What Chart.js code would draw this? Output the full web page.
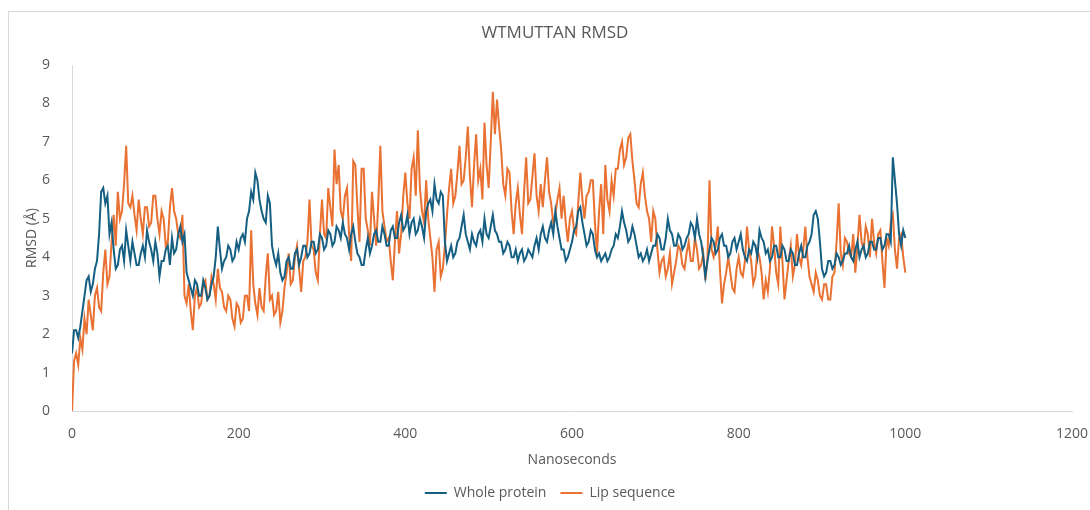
<!DOCTYPE html>
<html>
<head>
<meta charset="utf-8">
<script src="https://cdn.jsdelivr.net/npm/chart.js@4.4.1/dist/chart.umd.min.js"></script>
<style>
  html, body { margin: 0; padding: 0; background: #ffffff; }
  body { width: 1090px; height: 510px; position: relative; overflow: hidden; }
  #frame { position: absolute; left: 8px; top: 11px; width: 1100px; height: 520px; border: 1px solid #d9d9d9; box-sizing: border-box; }
  #wrap { position: absolute; left: 0; top: 0; width: 1090px; height: 510px; }
</style>
</head>
<body>
<div id="frame"></div>
<div id="wrap"><canvas id="c" width="1090" height="510"></canvas></div>
<script>
const titleText = "WTMUTTAN RMSD";
const xTitle = "Nanoseconds";
const yTitle = "RMSD (Å)";
const seriesNames = ["Whole protein", "Lip sequence"];

// Sampling interval of the series below (ns)
const stepNs = 2.5;

// Whole protein RMSD (Å), one value every 2.5 ns from 0 to 1000
const wholeProtein = [
  1.5, 2.1, 2.1, 1.9, 2.2, 2.6, 3.0, 3.4, 3.5, 3.1, 3.3, 3.7, 3.9, 4.6, 5.7, 5.8, 5.4, 5.6, 4.6, 4.9,
  4.2, 3.7, 3.8, 4.2, 4.3, 3.9, 4.7, 4.3, 3.9, 4.4, 4.1, 3.8, 3.8, 4.1, 4.3, 4.0, 4.7, 4.4, 4.2, 3.9,
  4.4, 4.1, 3.5, 3.9, 3.9, 4.2, 4.3, 3.8, 4.5, 4.1, 4.2, 4.6, 4.8, 4.4, 4.6, 3.6, 3.4, 3.2, 3.0, 3.4,
  3.3, 3.0, 3.0, 3.4, 3.2, 2.9, 3.0, 3.3, 3.5, 4.0, 4.8, 4.2, 3.7, 3.9, 4.0, 4.3, 4.2, 3.9, 4.0, 4.4,
  4.2, 4.5, 4.6, 4.4, 5.0, 5.2, 5.7, 5.5, 6.2, 6.0, 5.5, 5.2, 5.0, 4.9, 5.6, 5.4, 4.3, 4.0, 3.8, 4.1,
  3.6, 3.4, 3.5, 3.9, 4.0, 3.7, 3.7, 4.1, 4.2, 3.8, 4.0, 4.3, 4.3, 4.0, 4.1, 4.4, 4.4, 4.1, 4.2, 4.6,
  4.5, 4.2, 4.3, 4.7, 4.6, 4.3, 4.4, 4.8, 4.7, 4.5, 4.9, 4.6, 4.5, 4.2, 4.6, 4.8, 4.4, 4.1, 4.0, 3.8,
  3.8, 4.2, 4.5, 4.1, 4.3, 4.6, 4.7, 4.4, 4.4, 4.8, 4.6, 4.3, 4.3, 4.7, 4.8, 4.5, 4.5, 4.9, 5.1, 4.7,
  4.8, 5.1, 4.6, 4.9, 5.0, 4.6, 4.7, 5.0, 4.8, 4.5, 5.2, 5.4, 5.5, 5.2, 5.9, 5.5, 5.4, 5.7, 5.6, 4.4,
  3.9, 4.1, 4.3, 4.0, 4.1, 4.4, 4.5, 4.8, 5.1, 4.6, 4.4, 4.2, 4.6, 4.4, 4.3, 4.6, 4.7, 4.4, 5.0, 4.6,
  4.5, 4.8, 5.1, 4.7, 4.6, 4.4, 4.4, 4.1, 4.2, 4.4, 4.3, 4.0, 4.0, 4.2, 3.9, 4.1, 4.2, 3.9, 4.0, 4.2,
  4.1, 4.0, 4.3, 4.5, 4.2, 4.6, 4.8, 4.5, 4.4, 4.7, 4.9, 4.6, 5.2, 4.8, 4.5, 4.2, 4.2, 3.9, 4.0, 4.2,
  4.4, 4.7, 4.8, 5.2, 5.3, 4.9, 4.6, 4.3, 4.4, 4.7, 4.6, 4.2, 4.0, 4.1, 3.9, 4.0, 4.1, 3.9, 4.0, 4.2,
  4.3, 4.6, 4.5, 4.8, 5.2, 4.9, 4.7, 4.4, 4.5, 4.8, 4.6, 4.3, 4.0, 4.1, 3.9, 4.0, 4.2, 3.9, 4.1, 4.3,
  4.3, 4.6, 4.5, 4.2, 4.2, 4.5, 5.0, 4.7, 4.6, 4.3, 4.3, 4.6, 4.5, 4.2, 4.3, 4.5, 4.6, 4.9, 4.8, 4.5,
  5.0, 4.6, 4.4, 4.0, 3.5, 3.9, 4.2, 4.5, 4.4, 4.1, 4.2, 4.5, 4.6, 4.3, 4.3, 4.0, 4.1, 4.4, 4.5, 4.2,
  4.4, 4.6, 4.2, 4.0, 3.9, 4.2, 4.1, 4.4, 4.3, 4.0, 4.7, 4.5, 4.4, 4.1, 4.2, 3.9, 4.0, 4.3, 4.3, 4.0,
  4.0, 4.3, 4.2, 3.9, 3.9, 4.2, 4.1, 3.8, 3.8, 4.1, 4.3, 4.0, 4.0, 4.3, 4.4, 4.6, 5.1, 5.2, 5.0, 4.4,
  3.7, 3.5, 3.6, 3.9, 3.9, 3.7, 3.8, 4.1, 4.0, 3.8, 3.9, 4.1, 4.1, 4.3, 4.0, 3.9, 4.2, 4.4, 4.0, 4.2,
  4.3, 4.0, 4.1, 4.4, 4.4, 4.2, 4.2, 4.5, 4.5, 4.2, 4.3, 4.6, 4.6, 4.4, 6.6, 6.0, 5.4, 4.6, 4.3, 4.7,
  4.5
];

// Lip sequence RMSD (Å), one value every 2.5 ns from 0 to 1000
const lipSequence = [
  0.0, 1.3, 1.5, 1.2, 1.9, 1.6, 2.4, 2.0, 2.9, 2.5, 2.1, 3.0, 3.2, 2.7, 2.6, 3.6, 4.2, 3.3, 3.5, 4.4,
  5.1, 4.3, 5.7, 5.0, 5.2, 5.9, 6.9, 5.4, 5.3, 5.6, 5.1, 4.7, 5.5, 5.0, 4.6, 5.3, 5.3, 4.8, 4.9, 5.6,
  5.6, 5.0, 4.6, 5.2, 5.0, 4.3, 4.4, 5.3, 5.8, 5.2, 5.0, 4.6, 4.5, 5.1, 3.0, 2.8, 3.3, 2.6, 2.1, 3.0,
  3.2, 2.7, 2.8, 3.3, 3.4, 2.9, 3.0, 3.5, 3.3, 2.9, 3.7, 3.2, 3.1, 2.7, 2.6, 3.0, 2.9, 2.4, 2.2, 2.8,
  2.7, 2.3, 2.4, 3.0, 3.0, 2.6, 4.7, 3.3, 2.8, 2.5, 3.2, 2.7, 2.6, 3.5, 4.1, 2.9, 3.0, 2.5, 2.6, 3.1,
  2.3, 2.6, 3.2, 3.6, 4.1, 3.3, 3.4, 4.0, 4.3, 3.7, 3.1, 3.9, 4.0, 4.4, 5.5, 4.3, 4.2, 3.6, 3.4, 4.6,
  5.5, 4.6, 4.5, 5.8, 5.3, 4.8, 6.8, 5.9, 6.4, 5.2, 5.0, 5.6, 5.8, 4.6, 3.9, 6.5, 6.4, 5.3, 4.4, 6.3,
  6.3, 5.0, 4.7, 4.3, 5.7, 5.0, 4.3, 5.4, 6.9, 5.2, 4.8, 4.4, 4.5, 3.9, 3.4, 4.4, 5.2, 4.1, 4.6, 5.6,
  6.2, 5.4, 5.0, 6.3, 6.6, 5.6, 7.3, 5.8, 5.2, 4.9, 6.0, 5.0, 4.5, 4.0, 3.1, 4.2, 4.4, 3.5, 3.7, 4.3,
  5.1, 5.8, 6.3, 5.4, 5.6, 6.2, 6.9, 5.9, 6.0, 6.6, 7.4, 6.1, 5.3, 6.4, 7.2, 6.0, 6.3, 5.5, 7.5, 6.4,
  5.8, 7.0, 8.3, 7.2, 8.1, 7.4, 6.8, 5.9, 5.6, 6.3, 6.2, 5.2, 4.6, 5.4, 5.8, 5.1, 4.6, 5.7, 6.6, 5.4,
  5.5, 6.1, 6.7, 5.6, 5.2, 5.9, 5.3, 6.0, 6.6, 5.7, 5.4, 4.9, 5.1, 5.5, 5.8, 5.0, 5.6, 4.9, 4.4, 5.0,
  5.2, 4.7, 4.6, 5.4, 6.2, 5.5, 5.0, 5.6, 5.7, 6.0, 6.0, 4.9, 4.1, 5.2, 5.9, 4.6, 6.4, 5.5, 5.2, 6.0,
  5.6, 6.3, 6.3, 6.8, 7.0, 6.4, 6.6, 7.1, 7.2, 6.5, 6.0, 5.4, 5.3, 5.9, 6.2, 5.6, 5.2, 5.0, 4.4, 5.2,
  5.0, 4.2, 3.6, 3.9, 4.0, 3.5, 3.7, 4.1, 3.3, 3.6, 3.9, 4.3, 4.2, 3.8, 3.7, 4.1, 4.4, 3.9, 3.9, 4.5,
  4.2, 3.7, 3.8, 4.1, 3.4, 3.9, 6.0, 4.2, 4.0, 4.3, 4.8, 3.7, 2.8, 3.3, 3.6, 4.0, 3.6, 3.2, 3.1, 3.7,
  4.0, 3.6, 3.5, 3.9, 4.8, 4.2, 3.9, 3.3, 3.5, 4.2, 4.0, 3.6, 2.9, 3.4, 3.1, 3.7, 4.8, 4.3, 3.6, 3.3,
  4.8, 3.9, 2.9, 3.4, 3.9, 4.3, 3.5, 3.8, 4.6, 4.0, 3.8, 4.2, 4.8, 4.0, 3.5, 3.3, 3.1, 3.6, 3.4, 3.0,
  2.9, 3.3, 3.3, 2.9, 2.9, 3.5, 3.6, 4.4, 5.4, 4.1, 3.8, 4.5, 4.4, 4.1, 4.0, 4.6, 3.6, 4.3, 5.1, 4.4,
  4.2, 4.8, 4.6, 4.0, 5.0, 4.4, 4.1, 4.6, 4.7, 3.9, 3.2, 4.5, 4.3, 4.9, 5.1, 4.2, 3.7, 4.5, 4.6, 4.0,
  3.6
];

const nanoseconds = wholeProtein.map((_, i) => i * stepNs);

const xTicks = [0, 200, 400, 600, 800, 1000, 1200];
const yTicks = [0, 1, 2, 3, 4, 5, 6, 7, 8, 9];

const textColor = "#595959";
const fontFamily = "'Open Sans', 'Noto Sans', sans-serif";

function toPoints(xs, ys) { return xs.map((x, i) => ({ x: x, y: ys[i] })); }

const titlePlugin = {
  id: 'customTitle',
  afterDraw(chart) {
    const ctx = chart.ctx;
    ctx.save();
    ctx.fillStyle = textColor;
    ctx.font = "17px " + fontFamily;
    ctx.textAlign = "center";
    ctx.textBaseline = "middle";
    ctx.fillText(titleText, 555, 33);
    ctx.restore();
  }
};

new Chart(document.getElementById('c'), {
  type: 'scatter',
  data: {
    datasets: [
      { label: seriesNames[0], data: toPoints(nanoseconds, wholeProtein), showLine: true,
        borderColor: '#156082', backgroundColor: '#156082', borderWidth: 2, pointRadius: 0, tension: 0 },
      { label: seriesNames[1], data: toPoints(nanoseconds, lipSequence), showLine: true,
        borderColor: '#E97132', backgroundColor: '#E97132', borderWidth: 2, pointRadius: 0, tension: 0 }
    ]
  },
  options: {
    responsive: false,
    animation: false,
    devicePixelRatio: 1,
    layout: { padding: { top: 65, left: 10, right: 0, bottom: 0 } },
    plugins: {
      title: { display: false },
      tooltip: { enabled: false },
      legend: {
        position: 'bottom',
        labels: {
          usePointStyle: true, pointStyle: 'line', pointStyleWidth: 22,
          color: textColor, font: { family: fontFamily, size: 14 }, padding: 14
        }
      }
    },
    scales: {
      x: {
        type: 'linear', min: 0, max: 1200,
        afterBuildTicks: (axis) => { axis.ticks = xTicks.map(v => ({ value: v })); },
        afterFit: (axis) => { axis.height = 61; axis.paddingRight = 18; axis.paddingLeft = 0; },
        grid: { display: false },
        border: { display: true, color: '#d9d9d9', width: 1 },
        ticks: { color: textColor, font: { family: fontFamily, size: 14 }, padding: 7, maxRotation: 0,
                 callback: (v) => String(v) },
        title: { display: true, text: xTitle, color: textColor, font: { family: fontFamily, size: 14 }, padding: { top: 4, bottom: 4 } }
      },
      y: {
        type: 'linear', min: 0, max: 9,
        afterBuildTicks: (axis) => { axis.ticks = yTicks.map(v => ({ value: v })); },
        afterFit: (axis) => { axis.width = 62; },
        grid: { display: false },
        border: { display: true, color: '#d9d9d9', width: 1 },
        ticks: { color: textColor, font: { family: fontFamily, size: 14 }, padding: 14,
                 callback: (v) => String(v) },
        title: { display: true, text: yTitle, color: textColor, font: { family: fontFamily, size: 14 }, padding: { top: 14, bottom: 2 } }
      }
    }
  },
  plugins: [titlePlugin]
});
</script>
</body>
</html>
